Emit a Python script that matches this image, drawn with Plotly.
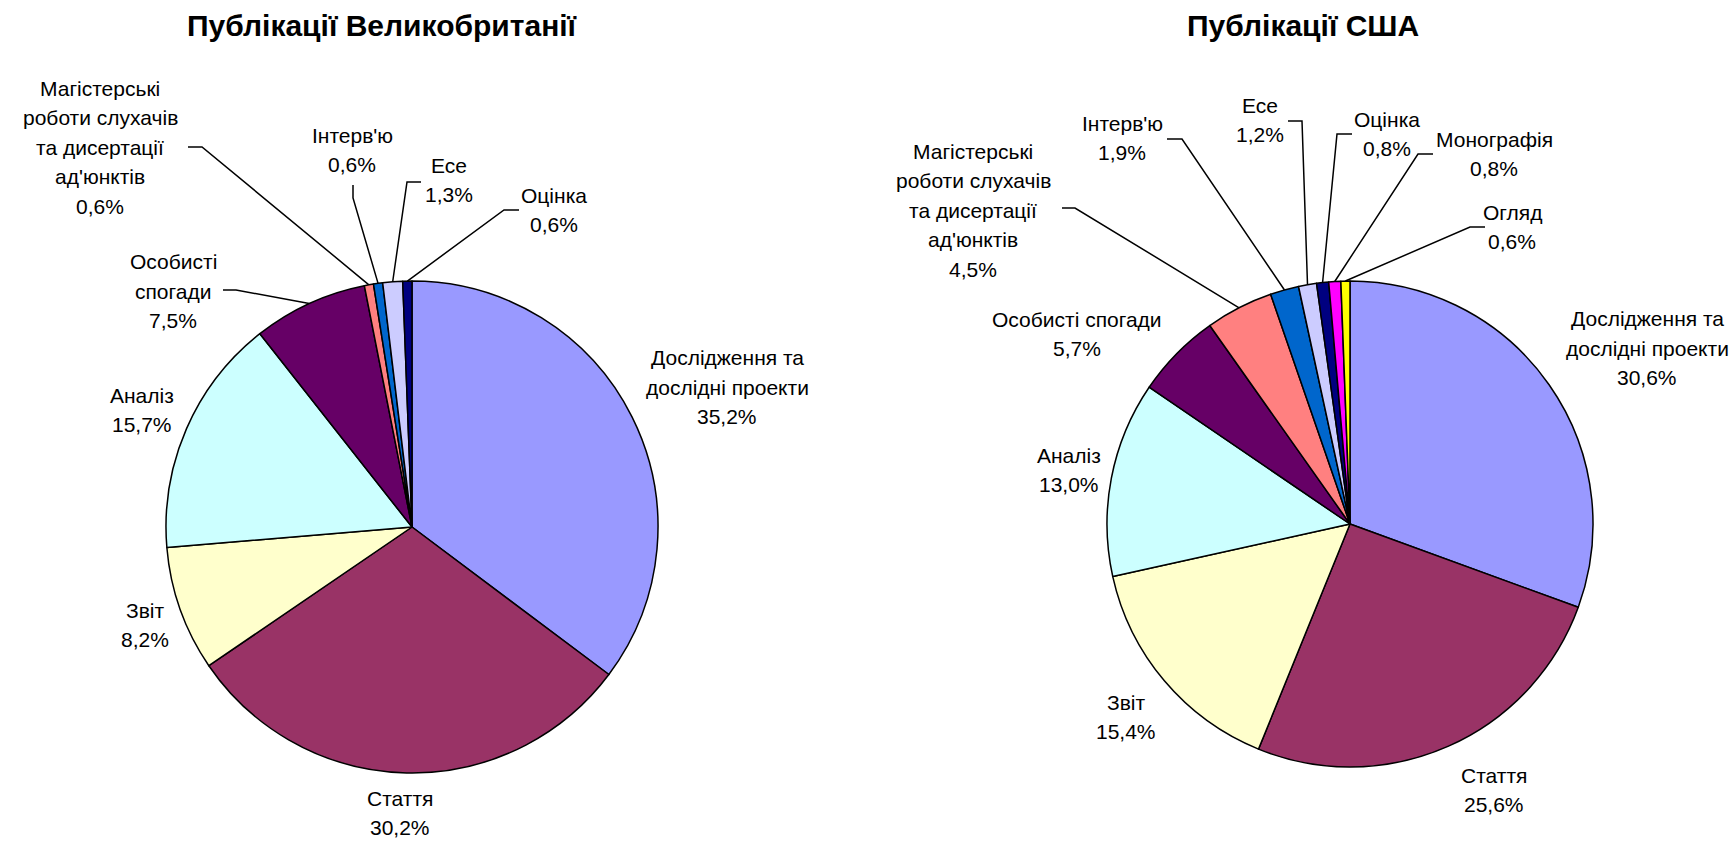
import math
import plotly.graph_objects as go

W, H = 1736, 841

# ---------------- data ----------------
uk_title = "Публікації Великобританії"
uk_categories = [
    "Дослідження та\nдослідні проекти",
    "Стаття",
    "Звіт",
    "Аналіз",
    "Особисті\nспогади",
    "Магістерські\nроботи слухачів\nта дисертації\nад'юнктів",
    "Інтерв'ю",
    "Есе",
    "Оцінка",
]
uk_values = [35.2, 30.2, 8.2, 15.7, 7.5, 0.6, 0.6, 1.3, 0.6]
uk_colors = ["#9999FF", "#993366", "#FFFFCC", "#CCFFFF", "#660066",
             "#FF8080", "#0066CC", "#CCCCFF", "#000080"]

us_title = "Публікації США"
us_categories = [
    "Дослідження та\nдослідні проекти",
    "Стаття",
    "Звіт",
    "Аналіз",
    "Особисті спогади",
    "Магістерські\nроботи слухачів\nта дисертації\nад'юнктів",
    "Інтерв'ю",
    "Есе",
    "Оцінка",
    "Монографія",
    "Огляд",
]
us_values = [30.6, 25.6, 15.4, 13.0, 5.7, 4.5, 1.9, 1.2, 0.8, 0.8, 0.6]
us_colors = ["#9999FF", "#993366", "#FFFFCC", "#CCFFFF", "#660066",
             "#FF8080", "#0066CC", "#CCCCFF", "#000080", "#FF00FF", "#FFFF00"]

# ---------------- layout (pixels) ----------------
UK_PIE = dict(cx=412, cy=527, r=246)
US_PIE = dict(cx=1350, cy=524, r=243)

# label block centre and leader-line elbow points (label side), per slice
uk_label_pos = [
    dict(x=727, y=387, leader=None),
    dict(x=400, y=813, leader=None),
    dict(x=145, y=625, leader=None),
    dict(x=142, y=410, leader=None),
    dict(x=173, y=291, leader=[(223, 290), (236, 290)]),
    dict(x=100, y=147, leader=[(188, 147), (202, 147)]),
    dict(x=352, y=150, leader=[(353, 185), (353, 198)]),
    dict(x=449, y=180, leader=[(421, 182), (407, 182)]),
    dict(x=554, y=210, leader=[(519, 210), (504, 210)]),
]
us_label_pos = [
    dict(x=1647, y=348, leader=None),
    dict(x=1494, y=790, leader=None),
    dict(x=1126, y=717, leader=None),
    dict(x=1069, y=470, leader=None),
    dict(x=1077, y=334, leader=None),
    dict(x=973, y=210, leader=[(1062, 208), (1075, 208)]),
    dict(x=1122, y=138, leader=[(1167, 139), (1182, 139)]),
    dict(x=1260, y=120, leader=[(1288, 121), (1302, 121)]),
    dict(x=1387, y=134, leader=[(1352, 134), (1337, 134)]),
    dict(x=1494, y=154, leader=[(1433, 154), (1418, 154)]),
    dict(x=1512, y=227, leader=[(1485, 227), (1470, 227)]),
]

FONT = "Liberation Sans, Arial, sans-serif"
LABEL_SIZE = 21
TITLE_SIZE = 30
LINE_STEP = 29.5


def pct(v):
    return f"{v:.1f}".replace(".", ",") + "%"


fig = go.Figure()

# invisible pixel-space axes for leader lines / labels
fig.add_trace(go.Scatter(x=[0, W], y=[0, H], mode="markers",
                         marker=dict(opacity=0), hoverinfo="skip",
                         showlegend=False))

annotations = []


def add_pie(categories, values, colors, pie, label_pos, title, title_x):
    cx, cy, r = pie["cx"], pie["cy"], pie["r"]
    fig.add_trace(go.Pie(
        labels=[c.replace("\n", " ") for c in categories],
        values=values,
        sort=False,
        direction="clockwise",
        rotation=0,
        textinfo="none",
        hoverinfo="none",
        marker=dict(colors=colors, line=dict(color="black", width=1.5)),
        domain=dict(x=[(cx - r) / W, (cx + r) / W],
                    y=[(H - cy - r) / H, (H - cy + r) / H]),
        showlegend=False,
    ))
    total = sum(values)
    cum = 0.0
    lx, ly = [], []
    for cat, v, lp in zip(categories, values, label_pos):
        a = 2 * math.pi * (cum + v / 2) / total
        cum += v
        rim = (cx + r * math.sin(a), cy - r * math.cos(a))
        lines = cat.split("\n") + [pct(v)]
        n = len(lines)
        for i, t in enumerate(lines):
            annotations.append(dict(
                x=lp["x"], y=lp["y"] + (i - (n - 1) / 2) * LINE_STEP,
                xref="x", yref="y", text=t, showarrow=False,
                xanchor="center", yanchor="middle",
                font=dict(family=FONT, size=LABEL_SIZE, color="black")))
        if lp["leader"]:
            pts = list(lp["leader"]) + [rim]
            lx += [p[0] for p in pts] + [None]
            ly += [p[1] for p in pts] + [None]
    fig.add_trace(go.Scatter(x=lx, y=ly, mode="lines",
                             line=dict(color="black", width=1.5),
                             hoverinfo="skip", showlegend=False))
    annotations.append(dict(
        x=title_x, y=25, xref="x", yref="y", text=f"<b>{title}</b>",
        showarrow=False, xanchor="center", yanchor="middle",
        font=dict(family=FONT, size=TITLE_SIZE, color="black")))


add_pie(uk_categories, uk_values, uk_colors, UK_PIE, uk_label_pos, uk_title, 382)
add_pie(us_categories, us_values, us_colors, US_PIE, us_label_pos, us_title, 1303)

fig.update_layout(
    width=W, height=H,
    margin=dict(l=0, r=0, t=0, b=0),
    paper_bgcolor="white", plot_bgcolor="white",
    xaxis=dict(range=[0, W], visible=False, fixedrange=True),
    yaxis=dict(range=[H, 0], visible=False, fixedrange=True),
    annotations=annotations,
)

fig.write_html("out.html", config={"displayModeBar": False},
               post_script="document.body.style.margin='0';")
